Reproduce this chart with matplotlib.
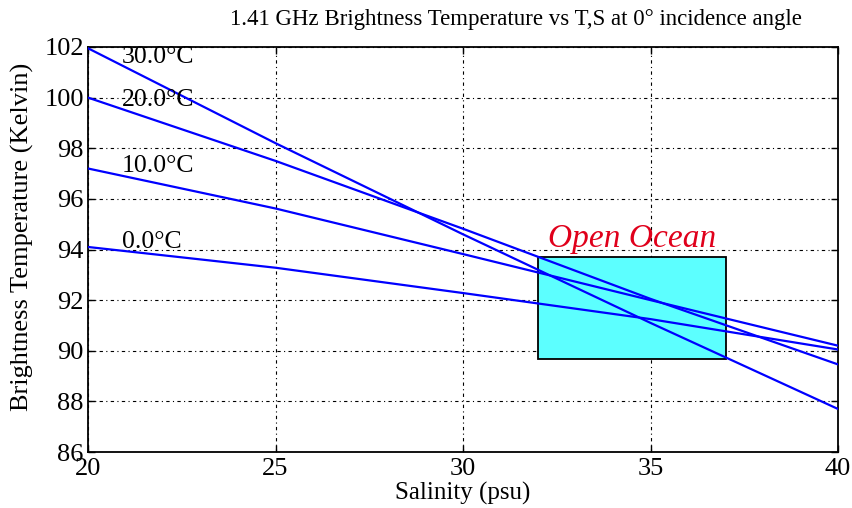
import matplotlib
matplotlib.use("Agg")
import matplotlib.pyplot as plt
from matplotlib.patches import Rectangle

plt.rcParams['font.family'] = ['Liberation Serif', 'DejaVu Serif']

salinity = [20, 25, 30, 35, 40]
tb_30 = [101.95, 98.2, 94.6, 91.1, 87.7]
tb_20 = [100.0, 97.5, 94.82, 92.05, 89.46]
tb_10 = [97.2, 95.62, 93.82, 92.0, 90.2]
tb_0 = [94.1, 93.28, 92.28, 91.25, 90.05]
series = [tb_30, tb_20, tb_10, tb_0]
labels = ["30.0°C", "20.0°C", "10.0°C", "0.0°C"]
label_y = [101.6, 99.9, 97.3, 94.3]

box_s = [32, 37]
box_tb = [89.67, 93.7]

xticks = [20, 25, 30, 35, 40]
yticks = [86, 88, 90, 92, 94, 96, 98, 100, 102]

fig = plt.figure(figsize=(8.52, 5.08), dpi=100)
ax = fig.add_axes([0.1033, 0.1102, 0.8803, 0.7973])

ax.add_patch(Rectangle((box_s[0], box_tb[0]), box_s[1] - box_s[0], box_tb[1] - box_tb[0],
                       facecolor='#5CFFFF', edgecolor='black', linewidth=1.3, zorder=1))

for vals in series:
    ax.plot(salinity, vals, color='#0000FF', linewidth=1.6, zorder=3)

for lab, ly in zip(labels, label_y):
    ax.text(20.9, ly, lab, fontsize=18.5, ha='left', va='center', zorder=4)

ax.text(34.5, 94.42, "Open Ocean", fontsize=24, style='italic', color='#E0001B',
        ha='center', va='center', zorder=4)

ax.set_xlim(20, 40)
ax.set_ylim(86, 102)
ax.set_xticks(xticks)
ax.set_yticks(yticks)
ax.tick_params(direction='in', top=True, right=True, length=5, labelsize=19, width=1)
ax.tick_params(axis='x', pad=4)
ax.tick_params(axis='y', pad=3)
ax.grid(True, color='black', linestyle=(0, (3, 3, 1, 3)), linewidth=0.8)
ax.set_axisbelow(True)
for sp in ax.spines.values():
    sp.set_linewidth(1.3)

ax.set_xlabel("Salinity (psu)", fontsize=18)
ax.xaxis.set_label_coords(0.5, (452 - 493) / 405)
ax.xaxis.label.set_va('center')
ax.set_ylabel("Brightness Temperature (Kelvin)", fontsize=19)
ax.yaxis.set_label_coords((22 - 88) / 750, (452 - 237) / 405)
ax.yaxis.label.set_va('center')
fig.text(516 / 852, 1 - 19 / 508, "1.41 GHz Brightness Temperature vs T,S at 0° incidence angle",
         fontsize=16.5, ha='center', va='center')

fig.savefig("out.png", dpi=100)
